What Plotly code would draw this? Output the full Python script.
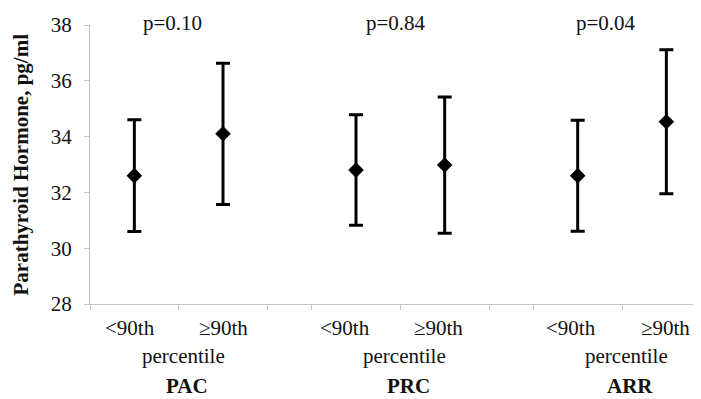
import plotly.graph_objects as go

# ---- data ----
groups = ["PAC", "PRC", "ARR"]
levels = ["<90th", "≥90th"]
p_values = ["p=0.10", "p=0.84", "p=0.04"]
means = [32.6, 34.1, 32.8, 32.98, 32.6, 34.53]
errors = [2.0, 2.53, 1.98, 2.44, 1.99, 2.58]
y_ticks = [28, 30, 32, 34, 36, 38]

FONT = "Liberation Serif, Times New Roman, serif"
GROUP_STEP = 2.5  # two categories + half-category gap
PAGE_PAD = 8      # default body margin of the html page

xs = [g * GROUP_STEP + i + 0.5 for g in range(len(groups)) for i in range(len(levels))]
tick_x = [g * GROUP_STEP + k for g in range(len(groups)) for k in range(3)]

fig = go.Figure()
fig.add_trace(go.Scatter(
    x=xs, y=means, mode="markers",
    marker=dict(symbol="diamond", size=12, color="black"),
    error_y=dict(type="data", array=errors, visible=True,
                 color="black", thickness=3, width=7),
    showlegend=False,
))

ann = []
lvl_off = [[-0.05, 0.01], [-0.12, -0.075], [-0.075, -0.015]]
for g in range(len(groups)):
    for i, lv in enumerate(levels):
        ann.append(dict(x=g * GROUP_STEP + i + 0.5 + lvl_off[g][i], xref="x",
                        y=0, yref="paper", yanchor="middle", yshift=-24,
                        text=lv, showarrow=False,
                        font=dict(family=FONT, size=21, color="#111")))
    cx = g * GROUP_STEP + 1
    ann.append(dict(x=cx + 0.05, xref="x", y=0, yref="paper", yanchor="middle",
                    yshift=-52, text="percentile", showarrow=False,
                    font=dict(family=FONT, size=21, color="#111")))
    ann.append(dict(x=cx + 0.09, xref="x", y=0, yref="paper", yanchor="middle",
                    yshift=-82, text="<b>" + groups[g] + "</b>", showarrow=False,
                    font=dict(family=FONT, size=21, color="#111")))
    ann.append(dict(x=cx - 0.07 + (0.02 if g == 1 else 0) - (0.11 if g == 2 else 0),
                    xref="x", y=1, yref="paper", yanchor="middle",
                    yshift=2, text=p_values[g], showarrow=False,
                    font=dict(family=FONT, size=21, color="#111")))

ann.append(dict(x=0, xref="paper", xshift=-70, y=0.5, yref="paper",
                text="<b>Parathyroid Hormone, pg/ml</b>", textangle=-90,
                showarrow=False, xanchor="center", yanchor="middle",
                font=dict(family=FONT, size=21, color="#111")))

fig.update_layout(
    width=701 - PAGE_PAD, height=399 - PAGE_PAD,
    margin=dict(l=90 - PAGE_PAD, r=0, t=25 - PAGE_PAD, b=95),
    paper_bgcolor="white", plot_bgcolor="white",
    annotations=ann,
    xaxis=dict(range=[0, 611 / 88.67], tickvals=tick_x, ticktext=[""] * len(tick_x),
               showgrid=False, zeroline=False, showline=True, linecolor="#c4c4c4",
               linewidth=1, ticks="outside", ticklen=5, tickcolor="#c4c4c4"),
    yaxis=dict(range=[28, 38], tickvals=y_ticks, showgrid=False, zeroline=False,
               showline=True, linecolor="#c4c4c4", linewidth=1,
               ticks="outside", ticklen=5, tickcolor="#c4c4c4",
               ticklabelstandoff=8,
               tickfont=dict(family=FONT, size=21, color="#111")),
)

fig.write_html("out.html")
